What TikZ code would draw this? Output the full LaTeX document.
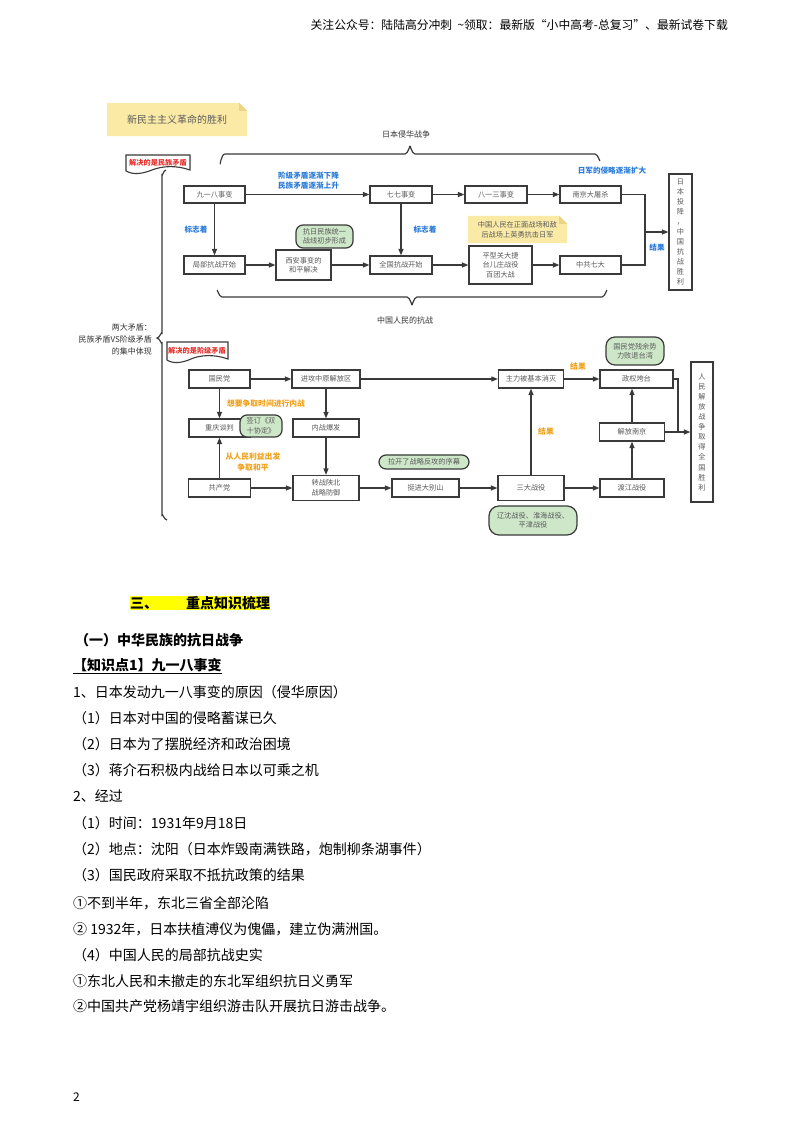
\documentclass[tikz,border=0pt]{standalone}
\usepackage{fontspec}
\newfontfamily\cjk{Noto Sans CJK SC}
\usetikzlibrary{arrows.meta,backgrounds}
\definecolor{linec}{HTML}{3A3A3A}
\definecolor{boxtxt}{HTML}{5A5A5A}
\definecolor{bluec}{HTML}{2A7BD8}
\definecolor{redc}{HTML}{E8322D}
\definecolor{orangec}{HTML}{F2A21C}
\definecolor{greenc}{HTML}{CDE7C8}
\definecolor{notec}{HTML}{FBEAA6}
\definecolor{foldc}{HTML}{E9D585}
\definecolor{darkc}{HTML}{333333}
\definecolor{hl}{HTML}{FFFF00}
\begin{document}
\begin{tikzpicture}[x=1pt,y=-1pt,
 bx/.style={draw=linec, line width=1.2pt, fill=white, text=boxtxt, font=\cjk\fontsize{7.2}{9.5}\selectfont, align=center, inner sep=1pt},
 gn/.style={draw=linec, line width=1.2pt, fill=greenc, rounded corners=7pt, text=boxtxt, font=\cjk\fontsize{7.2}{9.5}\selectfont, align=center, inner sep=1pt},
 vt/.style={bx, font=\cjk\fontsize{7.2}{10}\selectfont},
 ar/.style={draw=linec, line width=1.2pt, -{Triangle[length=6.5pt,width=5pt]}},
 ln/.style={draw=linec, line width=1.2pt},
 blu/.style={text=bluec, font=\cjk\bfseries\fontsize{7.6}{10}\selectfont, align=center, inner sep=0},
 org/.style={text=orangec, font=\cjk\bfseries\fontsize{7.8}{10.5}\selectfont, align=center, inner sep=0},
 redl/.style={text=redc, font=\cjk\bfseries\fontsize{7.2}{9}\selectfont, inner sep=0},
 lbl/.style={text=darkc, font=\cjk\fontsize{8}{12}\selectfont, align=center, inner sep=0},
 note/.style={text=boxtxt, align=center, inner sep=0},
 body/.style={anchor=west, inner sep=0, font=\cjk\fontsize{14}{16}\selectfont, text=black},
 bodyb/.style={body, font=\cjk\bfseries\fontsize{14}{16}\selectfont},
]
\useasboundingbox (0,0) rectangle (800,1132);
\begin{scope}[on background layer]
\fill[white] (0,0) rectangle (800,1132);
\end{scope}

% header
\node[anchor=east, inner sep=0, font=\cjk\fontsize{11.8}{13}\selectfont, text=black] (hdr) at (728,25) {关注公众号：陆陆高分冲刺\ \ \textasciitilde 领取：最新版“小中高考-总复习”、最新试卷下载};

% notes
\node[note, minimum width=140pt, minimum height=33pt, font=\cjk\fontsize{10}{12}\selectfont] (t1) at (177,119.5) {新民主主义革命的胜利};
\node[note, minimum width=99pt, minimum height=27pt, font=\cjk\fontsize{7.2}{10}\selectfont] (t2) at (517.5,229.5) {中国人民在正面战场和敌\\后战场上英勇抗击日军};
\begin{scope}[on background layer]
\foreach \n in {t1,t2}{
 \fill[notec] (\n.north west) -- ([xshift=-8pt]\n.north east) -- ([yshift=-8pt]\n.north east) -- (\n.south east) -- (\n.south west) -- cycle;
 \fill[foldc] ([xshift=-8pt]\n.north east) -- ([xshift=-8pt,yshift=-8pt]\n.north east) -- ([yshift=-8pt]\n.north east) -- cycle;
}
\end{scope}

% braces
\node[lbl] (lb1) at (406,134) {日本侵华战争};
\draw[ln] (220,163) to[out=-90,in=180] (225,154) -- (405,154) to[out=0,in=90] (410,147) to[out=90,in=180] (415,154) -- (595,154) to[out=0,in=-90] (600,160);
\node[lbl] (lb2) at (405,320) {中国人民的抗战};
\draw[ln] (217,291) to[out=90,in=180] (222,297) -- (407,297) to[out=0,in=-90] (412,304) to[out=-90,in=180] (417,297) -- (602,297) to[out=0,in=90] (607,291);
\draw[ln] (166,170) to[out=180,in=-90] (162,175) -- (162,333) to[out=90,in=0] (157,338) to[out=0,in=-90] (162,343) -- (162,515) to[out=90,in=180] (167,520);
\node[lbl, anchor=east, align=right] (lb3) at (152,339) {两大矛盾：\\民族矛盾VS阶级矛盾\\的集中体现};

% red document labels
\filldraw[draw=linec, line width=1.1pt, fill=white] (126,155) -- (190,155) -- (190,170) .. controls (176,165) and (162,166) .. (152,170) .. controls (142,174) and (133,175) .. (126,171) -- cycle;
\node[redl] (d1) at (158,163) {解决的是民族矛盾};
\filldraw[draw=linec, line width=1.1pt, fill=white] (167,342) -- (228,342) -- (228,359) .. controls (214,354) and (200,355) .. (191,359) .. controls (182,363) and (173,364) .. (167,360) -- cycle;
\node[redl] (d2) at (197,350.5) {解决的是阶级矛盾};

% top section boxes
\node[bx, minimum width=61pt, minimum height=17pt] (n918) at (214.5,194.5) {九一八事变};
\node[bx, minimum width=62pt, minimum height=17pt] (n77) at (401,194.5) {七七事变};
\node[bx, minimum width=62pt, minimum height=17pt] (n813) at (496,194.5) {八一三事变};
\node[bx, minimum width=61pt, minimum height=17pt] (nnj) at (590.5,194.5) {南京大屠杀};
\node[vt, minimum width=23pt, minimum height=116pt] (njp) at (680.5,232) {日\\本\\投\\降\\，\\中\\国\\抗\\战\\胜\\利};
\node[bx, minimum width=61pt, minimum height=18pt] (njb) at (214.5,265) {局部抗战开始};
\node[bx, minimum width=55pt, minimum height=30pt] (nxa) at (303.5,265) {西安事变的\\和平解决};
\node[bx, minimum width=62pt, minimum height=18pt] (nqg) at (401,265) {全国抗战开始};
\node[bx, minimum width=63pt, minimum height=38pt] (npx) at (500.5,265) {平型关大捷\\台儿庄战役\\百团大战};
\node[bx, minimum width=61pt, minimum height=18pt] (nqd) at (590.5,265) {中共七大};
\node[gn, minimum width=57pt, minimum height=23pt] (g1) at (324.5,236.5) {抗日民族统一\\战线初步形成};

\node[blu] (b1) at (308.5,181) {阶级矛盾逐渐下降\\民族矛盾逐渐上升};
\node[blu] (b2) at (612,171) {日军的侵略逐渐扩大};
\node[blu] (b3) at (196,230) {标志着};
\node[blu] (b4) at (425,230) {标志着};
\node[blu] (b5) at (657,248) {结果};

\coordinate (j1) at (645,232);
\draw[ar] (n918) -- (n77);
\draw[ar] (n77) -- (n813);
\draw[ar] (n813) -- (nnj);
\draw[ar] (n918) -- (njb);
\draw[ar] (n77) -- (nqg);
\draw[ar] (njb) -- (nxa);
\draw[ar] (nxa) -- (nqg);
\draw[ar] (nqg) -- (npx);
\draw[ar] (npx) -- (nqd);
\draw[ln] (nnj.east) -| (j1);
\draw[ln] (nqd.east) -| (j1);
\draw[ar] (j1) -- (j1 -| njp.west);

% bottom section boxes
\node[bx, minimum width=61pt, minimum height=18pt] (gmd) at (219.5,379) {国民党};
\node[bx, minimum width=68pt, minimum height=18pt] (jgzy) at (326,379) {进攻中原解放区};
\node[bx, minimum width=65pt, minimum height=18pt] (zlxm) at (531,379) {主力被基本消灭};
\node[bx, minimum width=73pt, minimum height=18pt] (zqkt) at (636.5,379) {政权垮台};
\node[gn, minimum width=58pt, minimum height=28pt, rounded corners=9pt] (g2) at (635,351) {国民党残余势\\力败退台湾};
\node[vt, minimum width=22pt, minimum height=140pt, font=\cjk\fontsize{7.2}{10.1}\selectfont] (rmjf) at (702,432) {人\\民\\解\\放\\战\\争\\取\\得\\全\\国\\胜\\利};
\node[bx, minimum width=61pt, minimum height=18pt] (cqtp) at (219.5,428) {重庆谈判};
\node[gn, minimum width=42pt, minimum height=22pt] (g3) at (261,426) {签订《双\\十协定》};
\node[bx, minimum width=66pt, minimum height=18pt] (nzbf) at (326,428) {内战爆发};
\node[bx, minimum width=62pt, minimum height=18pt] (gcd) at (219.5,488) {共产党};
\node[bx, minimum width=66pt, minimum height=25pt] (zzsb) at (326,488) {转战陕北\\战略防御};
\node[bx, minimum width=67pt, minimum height=18pt] (tjdbs) at (425.5,488) {挺进大别山};
\node[gn, minimum width=90pt, minimum height=14pt] (g4) at (424,462) {拉开了战略反攻的序幕};
\node[bx, minimum width=66pt, minimum height=25pt] (sdzy) at (531,488) {三大战役};
\node[bx, minimum width=64pt, minimum height=18pt] (djzy) at (632,488) {渡江战役};
\node[bx, minimum width=65pt, minimum height=18pt] (jfnj) at (632,432) {解放南京};
\node[gn, minimum width=88pt, minimum height=29pt, rounded corners=10pt] (g5) at (533,520.5) {辽沈战役、淮海战役、\\平津战役};

\node[org] (o1) at (266,404) {想要争取时间进行内战};
\node[org] (o2) at (253,462) {从人民利益出发\\争取和平};
\node[org] (o3) at (578,367) {结果};
\node[org] (o4) at (546,432) {结果};

\coordinate (j2) at (678,432);
\draw[ar] (gmd) -- (jgzy);
\draw[ar] (gmd) -- (cqtp);
\draw[ar] (gcd) -- (cqtp);
\draw[ar] (jgzy) -- (nzbf);
\draw[ar] (nzbf) -- (zzsb);
\draw[ar] (gcd) -- (zzsb);
\draw[ar] (zzsb) -- (tjdbs);
\draw[ar] (tjdbs) -- (sdzy);
\draw[ar] (sdzy) -- (djzy);
\draw[ar] (jgzy) -- (zlxm);
\draw[ar] (sdzy) -- (zlxm);
\draw[ar] (zlxm) -- (zqkt);
\draw[ar] (djzy) -- (jfnj);
\draw[ar] (jfnj.north) -- (jfnj.north |- zqkt.south);
\draw[ln] (zqkt.east) -| (j2);
\draw[ar] (jfnj) -- (rmjf);

% body text
\node[bodyb, fill=hl] (h1) at (130,603) {三、\hspace{28pt}重点知识梳理};
\node[bodyb] (h2) at (75,640) {（一）中华民族的抗日战争};
\node[bodyb] (h3) at (73,666) {\underline{【知识点1】九一八事变}};
\node[body] (p1) at (73,692) {1、日本发动九一八事变的原因（侵华原因）};
\node[body] (p2) at (73,718) {（1）日本对中国的侵略蓄谋已久};
\node[body] (p3) at (73,744) {（2）日本为了摆脱经济和政治困境};
\node[body] (p4) at (73,770) {（3）蒋介石积极内战给日本以可乘之机};
\node[body] (p5) at (73,796) {2、经过};
\node[body] (p6) at (73,823) {（1）时间：1931年9月18日};
\node[body] (p7) at (73,849) {（2）地点：沈阳（日本炸毁南满铁路，炮制柳条湖事件）};
\node[body] (p8) at (73,875) {（3）国民政府采取不抵抗政策的结果};
\node[body] (p9) at (73,903) {①不到半年，东北三省全部沦陷};
\node[body] (p10) at (73,929) {② 1932年，日本扶植溥仪为傀儡，建立伪满洲国。};
\node[body] (p11) at (73,955) {（4）中国人民的局部抗战史实};
\node[body] (p12) at (73,981) {①东北人民和未撤走的东北军组织抗日义勇军};
\node[body] (p13) at (73,1006) {②中国共产党杨靖宇组织游击队开展抗日游击战争。};
\node[body, font=\cjk\fontsize{12}{14}\selectfont] (pg) at (73,1097) {2};
\end{tikzpicture}
\end{document}
